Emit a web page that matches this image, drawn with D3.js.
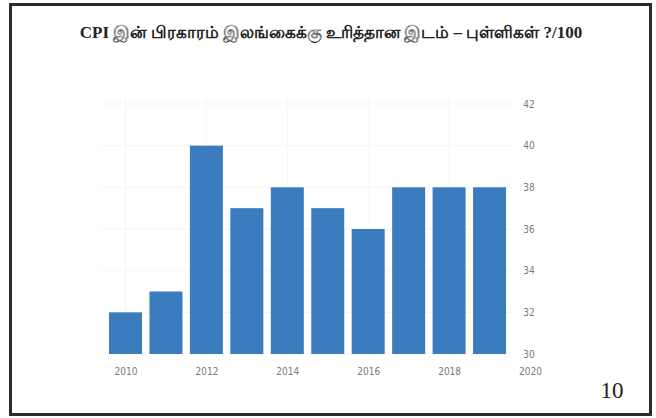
<!DOCTYPE html>
<html>
<head>
<meta charset="utf-8">
<script src="https://cdn.jsdelivr.net/npm/d3@7"></script>
<style>
  html, body { margin: 0; padding: 0; background: #fff; }
  svg { display: block; }
</style>
</head>
<body>
<div id="chart"></div>
<script>
const years = [2010, 2011, 2012, 2013, 2014, 2015, 2016, 2017, 2018, 2019]
const scores = [32, 33, 40, 37, 38, 37, 36, 38, 38, 38]
const xTicks = [2010, 2012, 2014, 2016, 2018, 2020]
const yTicks = [30, 32, 34, 36, 38, 40, 42]
const titleText = "CPI இன் பிரகாரம் இலங்கைக்கு உரித்தான இடம் – புள்ளிகள் ?/100"
const pageNumber = "10"

const width = 656
const height = 418

const svg = d3.select('#chart').append('svg')
              .attr('width', width)
              .attr('height', height)
              .attr('viewBox', [0, 0, width, height])

// outer frame
svg.append('rect')
    .attr('x', 10.5)
    .attr('y', 4.5)
    .attr('width', 640)
    .attr('height', 410)
    .attr('fill', 'white')
    .attr('stroke', '#2b2b2b')
    .attr('stroke-width', 3)

const x = d3.scaleLinear().domain([2010, 2020]).range([125.5, 530])
const y = d3.scaleLinear().domain([30, 42]).range([354, 104])
const barWidth = 33

// faint grid
const grid = svg.append('g')
grid.selectAll('.hgrid')
    .data(yTicks)
    .join('line')
    .attr('x1', 100).attr('x2', 515)
    .attr('y1', d => y(d)).attr('y2', d => y(d))
    .attr('stroke', '#f5f5f5')
grid.selectAll('.vgrid')
    .data(xTicks.slice(0, -1))
    .join('line')
    .attr('x1', d => x(d)).attr('x2', d => x(d))
    .attr('y1', 98).attr('y2', 358)
    .attr('stroke', '#f5f5f5')

// bars
svg.append('g')
    .selectAll('rect')
    .data(years)
    .join('rect')
    .attr('x', (d) => x(d) - barWidth / 2)
    .attr('width', barWidth)
    .attr('y', (d, i) => y(scores[i]))
    .attr('height', (d, i) => y(30) - y(scores[i]))
    .attr('fill', '#3b7cbf')

// y axis on the right, labels only
svg.append('g')
    .attr('transform', `translate(529,0)`)
    .call(d3.axisRight(y).tickValues(yTicks).tickSize(0).tickPadding(0))
    .call(g => g.select('.domain').remove())
    .call(g => g.selectAll('text')
        .attr('text-anchor', 'middle')
        .attr('fill', '#7a7a7a')
        .style('font-family', 'DejaVu Sans Condensed, DejaVu Sans')
        .style('font-size', '10px'))

// x axis labels
svg.append('g')
    .attr('transform', `translate(0,368)`)
    .call(d3.axisBottom(x).tickValues(xTicks).tickFormat(d3.format('d')).tickSize(0).tickPadding(0))
    .call(g => g.select('.domain').remove())
    .call(g => g.selectAll('text')
        .attr('fill', '#7a7a7a')
        .style('font-family', 'DejaVu Sans Condensed, DejaVu Sans')
        .style('font-size', '10px'))

// title
svg.append('text')
    .attr('x', 331)
    .attr('y', 38)
    .attr('text-anchor', 'middle')
    .style('font-family', 'Liberation Serif, serif')
    .style('font-size', '17px')
    .style('font-weight', 'bold')
    .attr('fill', '#222')
    .text(titleText)

// page number
svg.append('text')
    .attr('x', 612)
    .attr('y', 398)
    .attr('text-anchor', 'middle')
    .style('font-family', 'Liberation Serif, serif')
    .style('font-size', '23px')
    .attr('fill', '#222')
    .text(pageNumber)
</script>
</body>
</html>
